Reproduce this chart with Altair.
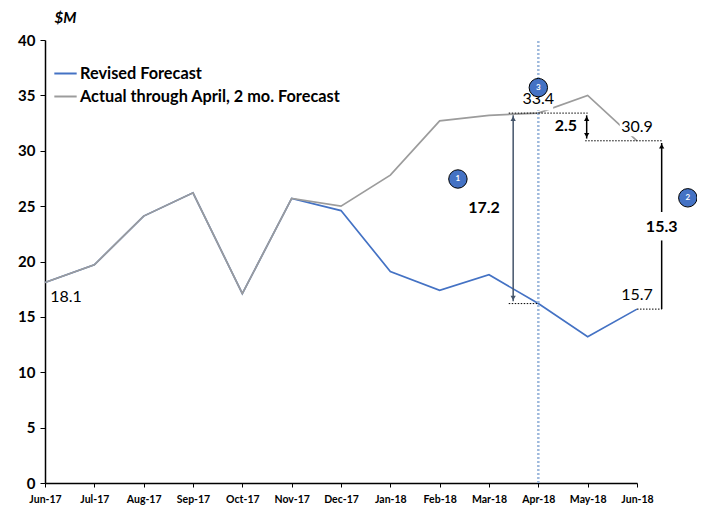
import altair as alt
import pandas as pd

FONT = "Lato"
months = ["Jun-17","Jul-17","Aug-17","Sep-17","Oct-17","Nov-17","Dec-17","Jan-18","Feb-18","Mar-18","Apr-18","May-18","Jun-18"]
revised = [18.1,19.7,24.1,26.2,17.1,25.7,24.6,19.1,17.4,18.8,16.2,13.2,15.7]
actual = [18.1,19.7,24.1,26.2,17.1,25.7,25.0,27.8,32.7,33.2,33.4,35.0,30.9]
REV = "Revised Forecast"
ACT = "Actual through April, 2 mo. Forecast"

idx = list(range(len(months)))
xs = alt.Scale(domain=[0, 12], nice=False, zero=False)
ys = alt.Scale(domain=[0, 40], nice=False)
labels_js = "[" + ",".join(f"'{m}'" for m in months) + "][datum.value]"

x_axis = alt.Axis(title=None, values=idx, labelExpr=labels_js, grid=False, labelFont=FONT, labelFontWeight="bold",
                  labelFontSize=10.5, labelColor="black", labelPadding=7, tickColor="black", tickSize=4, tickWidth=1,
                  domainColor="black", domainWidth=1.5, labelOverlap=False, labelFlush=False)
y_axis = alt.Axis(title="$M", titleAngle=0, titleX=20, titleY=-23, titleFont=FONT, titleFontSize=15, titleFontStyle="italic",
                  titleFontWeight="bold", titleColor="black", titleAlign="center", titleBaseline="middle",
                  values=list(range(0,45,5)), grid=False,
                  labelFont=FONT, labelFontWeight="bold", labelFontSize=15, labelColor="black", labelPadding=5,
                  tickColor="black", tickSize=5, tickWidth=1, domainColor="black", domainWidth=1.5)

x_ = alt.X("x:Q", scale=xs, axis=x_axis)
y_ = alt.Y("y:Q", scale=ys, axis=y_axis)
color_scale = alt.Scale(domain=[REV, ACT], range=["#4472c4", "#9c9c9c"])
legend = alt.Legend(title=None, orient="none", legendX=8, legendY=21, labelFont=FONT, labelFontWeight="bold", labelFontSize=16.3,
                    labelColor="black", symbolType="stroke", symbolSize=500, symbolStrokeWidth=2, labelOffset=2,
                    rowPadding=2, labelLimit=400)

def series(vals, name):
    df = pd.DataFrame({"x": idx, "y": vals, "s": name})
    return alt.Chart(df).mark_line(strokeWidth=1.7, strokeJoin="miter").encode(
        x=x_, y=y_, color=alt.Color("s:N", scale=color_scale, legend=legend))

def seg(x0, x1, y0, y1, color, width, dash=None):
    df = pd.DataFrame({"x": [x0], "x1": [x1], "y": [y0], "y1": [y1]})
    kw = {"strokeDash": dash} if dash else {}
    return alt.Chart(df).mark_rule(color=color, strokeWidth=width, **kw).encode(
        x=x_, x2="x1:Q", y=y_, y2="y1:Q")

def box(x0, x1, y0, y1):
    df = pd.DataFrame({"x": [x0], "x1": [x1], "y": [y0], "y1": [y1]})
    return alt.Chart(df).mark_rect(color="white").encode(x=x_, x2="x1:Q", y=y_, y2="y1:Q")

def head(x, y, shape, color):
    df = pd.DataFrame({"x": [x], "y": [y]})
    return alt.Chart(df).mark_point(shape=shape, filled=True, color=color, size=28, opacity=1).encode(x=x_, y=y_)

def label(x, y, t, bold=False, dx=0, dy=0):
    df = pd.DataFrame({"x": [x], "y": [y], "t": [t]})
    return alt.Chart(df).mark_text(font=FONT, fontSize=16, fontWeight="bold" if bold else "normal", color="black",
                                   align="center", baseline="middle", dx=dx, dy=dy).encode(x=x_, y=y_, text="t:N")

def badge(x, y, t):
    df = pd.DataFrame({"x": [x], "y": [y], "t": [t]})
    c = alt.Chart(df).mark_point(shape="circle", filled=True, fill="#4472c4", stroke="black", strokeWidth=1, size=340, opacity=1).encode(x=x_, y=y_)
    tx = alt.Chart(df).mark_text(font=FONT, fontSize=8, fontWeight="bold", color="white", align="center", baseline="middle").encode(x=x_, y=y_, text="t:N")
    return c + tx

layers = [
    series(revised, REV),
    series(actual, ACT),
    seg(10, 10, 0, 40, "#9db8dc", 2.5, [2, 2]),
    box(9.55, 10.3, 33.65, 35.5),
    box(11.65, 12.4, 31.3, 33.0),
    seg(9.4, 10, 33.4, 33.4, "black", 1, [1.5, 1.5]),
    seg(10, 11, 33.4, 33.4, "black", 1, [1.5, 1.5]),
    seg(9.4, 10, 16.2, 16.2, "black", 1, [1.5, 1.5]),
    seg(10.95, 12.5, 30.9, 30.9, "black", 1, [1.5, 1.5]),
    seg(12, 12.5, 15.7, 15.7, "black", 1, [1.5, 1.5]),
    seg(9.49, 9.49, 16.4, 33.2, "#44546a", 1.5),
    head(9.49, 32.9, "triangle-up", "#44546a"),
    head(9.49, 16.7, "triangle-down", "#44546a"),
    seg(10.98, 10.98, 31.1, 33.2, "black", 1.5),
    head(10.98, 32.9, "triangle-up", "black"),
    head(10.98, 31.4, "triangle-down", "black"),
    seg(12.5, 12.5, 15.7, 21.9, "black", 1.5),
    seg(12.5, 12.5, 24.47, 30.7, "black", 1.5),
    head(12.5, 30.4, "triangle-up", "black"),
    label(0, 18.1, "18.1", dx=21, dy=14),
    label(12, 15.7, "15.7", dy=-14),
    label(10, 33.4, "33.4", dy=-14),
    label(12, 30.9, "30.9", dy=-14),
    label(8.9, 24.85, "17.2", bold=True),
    label(10.56, 32.25, "2.5", bold=True),
    label(12.5, 23.1, "15.3", bold=True),
    badge(8.37, 27.45, "1"),
    badge(13.03, 25.75, "2"),
    badge(10, 35.7, "3"),
]

chart = alt.layer(*layers).resolve_scale(color="shared").properties(
    width=592, height=443, autosize=alt.AutoSizeParams(type="none"),
    padding={"left": 37, "top": 32, "right": 60, "bottom": 25},
).configure_view(stroke=None)

chart.save("out.html", embed_options={"renderer": "svg", "actions": False})
